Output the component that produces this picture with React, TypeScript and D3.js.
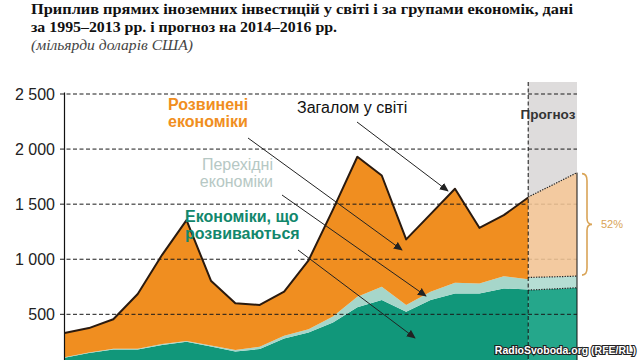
import React from "react";
import * as d3 from "d3";

const histYears = [1995, 1996, 1997, 1998, 1999, 2000, 2001, 2002, 2003, 2004, 2005, 2006, 2007, 2008, 2009, 2010, 2011, 2012, 2013, 2014];
const developing = [105, 148, 180, 180, 222, 250, 207, 163, 185, 280, 335, 425, 565, 630, 524, 630, 690, 690, 735, 726];
const transition = [5, 6, 8, 8, 9, 8, 10, 12, 20, 25, 30, 55, 95, 120, 60, 75, 96, 90, 110, 92];
const developed = [220, 221, 267, 497, 809, 1097, 588, 425, 380, 400, 625, 970, 1270, 1010, 596, 705, 854, 505, 555, 742];

const forecastYears = [2014, 2015, 2016];
const fcDeveloping = [720, 730, 741];
const fcTransition = [115, 110, 106];
const fcDeveloped = [730, 835, 939];

const yTicks = [500, 1000, 1500, 2000, 2500];
const yTickLabels = ["500", "1 000", "1 500", "2 000", "2 500"];

const keys = ["developing", "transition", "developed"];

const C = {
  orange: "#f08e20",
  teal: "#11977a",
  lteal: "#a6d6ca",
  fcTeal: "#25a78b",
  fcLteal: "#b6ded4",
  peach: "#f6c796",
  grey: "#dedcdc",
  line: "#2a1a0f",
  brace: "#d9a457",
};

export default function App() {
  const x = d3.scaleLinear().domain([1995, 2016]).range([64.5, 577]);
  const y = d3.scaleLinear().domain([0, 2500]).range([369.4, 94]);

  const hist = histYears.map((yr, i) => ({
    year: yr,
    developing: developing[i],
    transition: transition[i],
    developed: developed[i],
  }));
  const fc = forecastYears.map((yr, i) => ({
    year: yr,
    developing: fcDeveloping[i],
    transition: fcTransition[i],
    developed: fcDeveloped[i],
  }));
  const stack = d3.stack<any>().keys(keys);
  const hs = stack(hist);
  const fs = stack(fc);

  const area = d3
    .area<any>()
    .x((d) => x(d.data.year))
    .y0((d) => y(d[0]))
    .y1((d) => y(d[1]));
  const topLine = d3
    .line<any>()
    .x((d) => x(d.data.year))
    .y((d) => y(d[1]));

  const histFill = [C.teal, C.lteal, C.orange];
  const fcFill = [C.fcTeal, C.fcLteal, C.peach];

  const x0 = x(1995);
  const xF = x(2014);
  const xE = x(2016);
  const fcTop = y(fs[2][2][1]);
  const fcBot = y(fs[2][2][0]);
  const fcMid = (fcTop + fcBot) / 2;

  const sans = "'Liberation Sans', Arial, sans-serif";
  const serif = "'Liberation Serif', 'Times New Roman', serif";

  const arrows = [
    [357, 122, 448, 191],
    [248, 138, 402, 250],
    [282, 195, 426, 296],
    [298, 250, 415, 338],
  ];

  return (
    <svg
      width={640}
      height={360}
      style={{ position: "fixed", left: 0, top: 0, background: "#fff" }}
    >
      <defs>
        <marker id="ah" viewBox="0 0 10 10" refX="9" refY="5" markerWidth="9" markerHeight="9" orient="auto" markerUnits="userSpaceOnUse">
          <path d="M0,0.5 L10,5 L0,9.5 z" fill="#222" />
        </marker>
      </defs>

      {/* title */}
      <text x={31} y={14} fontFamily={serif} fontWeight="bold" fontSize={15} fill="#111" textLength={542} lengthAdjust="spacingAndGlyphs">
        Приплив прямих іноземних інвестицій у світі і за групами економік, дані
      </text>
      <text x={31} y={32} fontFamily={serif} fontWeight="bold" fontSize={15.5} fill="#111" textLength={306} lengthAdjust="spacingAndGlyphs">
        за 1995–2013 рр. і прогноз на 2014–2016 рр.
      </text>
      <text x={31} y={50} fontFamily={serif} fontStyle="italic" fontSize={15} fill="#444" textLength={162} lengthAdjust="spacingAndGlyphs">
        (мільярди доларів США)
      </text>

      {/* forecast background */}
      <rect x={xF} y={82} width={xE - xF} height={300} fill={C.grey} />

      {/* historical areas */}
      {hs.map((s, i) => (
        <path key={"h" + i} d={area(s) || ""} fill={histFill[i]} />
      ))}
      {/* forecast teal layers */}
      {fs.slice(0, 2).map((s, i) => (
        <path key={"f" + i} d={area(s) || ""} fill={fcFill[i]} />
      ))}

      {/* gridlines */}
      {yTicks.map((t, i) => (
        <g key={"g" + i}>
          <line x1={60} x2={xE} y1={y(t)} y2={y(t)} stroke="#1a1a1a" strokeWidth={1} strokeDasharray="4,2.5" />
          <text x={55} y={y(t) + 5.5} textAnchor="end" fontFamily={sans} fontSize={16} fill="#222">
            {yTickLabels[i]}
          </text>
        </g>
      ))}

      {/* forecast peach (slightly transparent so gridlines show faintly) */}
      <path d={area(fs[2]) || ""} fill={C.peach} fillOpacity={0.86} />

      {/* forecast boundaries dotted */}
      {fs.map((s, i) => (
        <path key={"fl" + i} d={topLine(s) || ""} fill="none" stroke="#222" strokeWidth={1.2} strokeDasharray="1.3,1.3" />
      ))}

      {/* total line */}
      <path d={topLine(hs[2]) || ""} fill="none" stroke={C.line} strokeWidth={2} strokeLinejoin="round" />

      {/* y axis */}
      <line x1={x0} x2={x0} y1={92.5} y2={370} stroke="#111" strokeWidth={1.2} />

      {/* forecast divider and right edge */}
      <line x1={xF} x2={xF} y1={82} y2={370} stroke="#111" strokeWidth={1} strokeDasharray="4,2.5" />
      <line x1={xE} x2={xE} y1={fcTop} y2={370} stroke="#111" strokeWidth={1} />

      <text x={548} y={119} textAnchor="middle" fontFamily={sans} fontWeight="bold" fontSize={13.5} fill="#333">
        Прогноз
      </text>

      {/* brace */}
      <path
        d={`M${xE + 5},${fcTop + 1} Q${xE + 10},${fcTop + 1} ${xE + 10},${fcTop + 8} L${xE + 10},${fcMid - 6} Q${xE + 10},${fcMid} ${xE + 15},${fcMid} Q${xE + 10},${fcMid} ${xE + 10},${fcMid + 6} L${xE + 10},${fcBot - 8} Q${xE + 10},${fcBot - 1} ${xE + 5},${fcBot - 1}`}
        fill="none"
        stroke={C.brace}
        strokeWidth={1.6}
      />
      <text x={601} y={fcMid + 4} fontFamily={sans} fontSize={11} fill={C.brace}>
        52%
      </text>

      {/* annotations */}
      {arrows.map((a, i) => (
        <line key={"a" + i} x1={a[0]} y1={a[1]} x2={a[2]} y2={a[3]} stroke="#222" strokeWidth={1} markerEnd="url(#ah)" />
      ))}
      <text fontFamily={sans} fontWeight="bold" fontSize={16} fill={C.orange}>
        <tspan x={168} y={110}>Розвинені</tspan>
        <tspan x={168} y={127}>економіки</tspan>
      </text>
      <text x={297} y={113} fontFamily={sans} fontSize={16} fill="#111">
        Загалом у світі
      </text>
      <text fontFamily={sans} fontSize={16} fill="#b6c8c4" textAnchor="end">
        <tspan x={273} y={170}>Перехідні</tspan>
        <tspan x={273} y={187}>економіки</tspan>
      </text>
      <text fontFamily={sans} fontWeight="bold" fontSize={16} fill="#12876c">
        <tspan x={185} y={222}>Економіки, що</tspan>
        <tspan x={185} y={239}>розвиваються</tspan>
      </text>

      {/* watermark */}
      <text
        x={636}
        y={354}
        textAnchor="end"
        fontFamily="'Liberation Sans Narrow', 'Liberation Sans', Arial, sans-serif"
        fontWeight="bold"
        fontSize={10.5}
        fill="#fff"
        stroke="#222"
        strokeWidth={2.2}
        paintOrder="stroke"
      >
        RadioSvoboda.org (RFE/RL)
      </text>
    </svg>
  );
}
